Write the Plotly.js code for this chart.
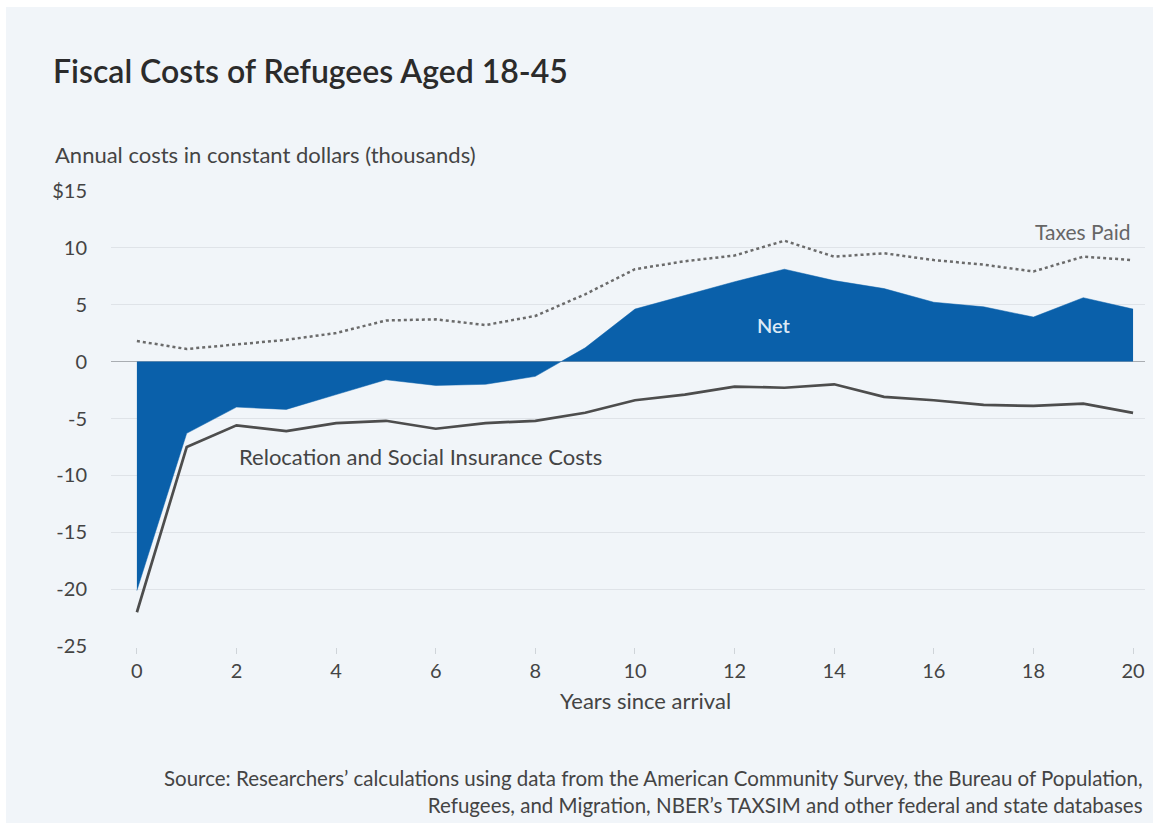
<!DOCTYPE html>
<html>
<head>
<meta charset="utf-8">
<script src="https://cdn.plot.ly/plotly-3.0.1.min.js"></script>
<style>
html,body{margin:0;padding:0;background:#ffffff;}
#wrap{position:relative;width:1160px;height:823px;}
#chart{width:1160px;height:823px;}
#frame{position:absolute;left:0;top:0;width:1160px;height:823px;box-sizing:border-box;
  border-left:6px solid #fff;border-top:7px solid #fff;border-right:7px solid #fff;pointer-events:none;}
</style>
</head>
<body>
<div id="wrap"><div id="chart"></div><div id="frame"></div></div>
<script>
var years = [0,1,2,3,4,5,6,7,8,9,10,11,12,13,14,15,16,17,18,19,20];
var taxesPaid = [1.8,1.1,1.5,1.9,2.5,3.6,3.7,3.2,4.0,5.9,8.1,8.8,9.3,10.6,9.2,9.5,8.9,8.5,7.9,9.2,8.9];
var netValues = [-20.1,-6.3,-4.0,-4.2,-2.9,-1.6,-2.1,-2.0,-1.3,1.2,4.6,5.8,7.0,8.1,7.1,6.4,5.2,4.8,3.9,5.6,4.6];
var relocationCosts = [-22.0,-7.5,-5.6,-6.1,-5.4,-5.2,-5.9,-5.4,-5.2,-4.5,-3.4,-2.9,-2.2,-2.3,-2.0,-3.1,-3.4,-3.8,-3.9,-3.7,-4.5];
var yTickVals = [15,10,5,0,-5,-10,-15,-20,-25];
var yTickText = ['$15','10','5','0','-5','-10','-15','-20','-25'];
var xTickVals = [0,2,4,6,8,10,12,14,16,18,20];

var FONT = 'Lato, "Open Sans", sans-serif';
var BLUE = '#0a60aa';

var traces = [
  {x: years, y: netValues, type: 'scatter', mode: 'lines', fill: 'tozeroy',
   fillcolor: BLUE, line: {color: BLUE, width: 0.5}, hoverinfo: 'skip'},
  {x: years, y: taxesPaid, type: 'scatter', mode: 'lines',
   line: {color: '#6b6b6b', width: 2.5, dash: 'dot'}, hoverinfo: 'skip'},
  {x: years, y: relocationCosts, type: 'scatter', mode: 'lines',
   line: {color: '#4d4d4d', width: 2.7}, hoverinfo: 'skip'}
];

var layout = {
  width: 1160, height: 823,
  paper_bgcolor: '#f1f5f9', plot_bgcolor: '#f1f5f9',
  showlegend: false,
  margin: {l: 111, r: 15, t: 190, b: 176},
  font: {family: FONT, color: '#444444', size: 20},
  title: {text: 'Fiscal Costs of Refugees Aged 18-45', x: 0.0457, xref: 'container', xanchor: 'left',
          y: 0.9125, yref: 'container', yanchor: 'middle',
          font: {family: FONT, size: 32, color: '#2b2b2b', weight: 600}},
  xaxis: {range: [-0.52, 20.24], tickvals: xTickVals, showgrid: false, zeroline: false,
          showline: false, ticks: 'outside', ticklen: 6, tickcolor: '#cfd4d9', tickwidth: 1,
          tickfont: {size: 20, color: '#444'}},
  yaxis: {range: [-25.05, 15.05], tickvals: yTickVals, ticktext: yTickText,
          showgrid: true, gridcolor: '#dfe3e8', gridwidth: 1,
          zeroline: true, zerolinecolor: '#a9adb2', zerolinewidth: 1.2,
          showline: false, ticks: '', ticklabelstandoff: 23,
          tickfont: {size: 20, color: '#444'}},
  annotations: [
    {text: 'Annual costs in constant dollars (thousands)', xref: 'paper', yref: 'paper',
     x: -0.056, y: 1.0766, xanchor: 'left', yanchor: 'middle', showarrow: false,
     font: {size: 22, color: '#444'}},
    {text: 'Years since arrival', xref: 'paper', yref: 'paper',
     x: 0.517, y: -0.116, xanchor: 'center', yanchor: 'middle', showarrow: false,
     font: {size: 22, color: '#444'}},
    {text: 'Taxes Paid', xref: 'x', yref: 'y', x: 20, y: 11.4, xanchor: 'right', yanchor: 'middle',
     showarrow: false, font: {size: 21, color: '#666'}},
    {text: 'Net', xref: 'x', yref: 'y', x: 12.8, y: 3.2, xanchor: 'center', yanchor: 'middle',
     showarrow: false, font: {size: 20, color: '#dce9f5', weight: 600}},
    {text: 'Relocation and Social Insurance Costs', xref: 'x', yref: 'y', x: 2.0, y: -8.3,
     xanchor: 'left', yanchor: 'middle', showarrow: false, font: {size: 22, color: '#444'}},
    {text: 'Source: Researchers\u2019 calculations using data from the American Community Survey, the Bureau of Population,<br>Refugees, and Migration, NBER\u2019s TAXSIM and other federal and state databases',
     xref: 'paper', yref: 'paper', x: 1.0, y: -0.317, xanchor: 'right', yanchor: 'middle', align: 'right',
     showarrow: false, font: {size: 20.5, color: '#444'}}
  ]
};

Plotly.newPlot('chart', traces, layout, {displayModeBar: false, staticPlot: true});
</script>
</body>
</html>
